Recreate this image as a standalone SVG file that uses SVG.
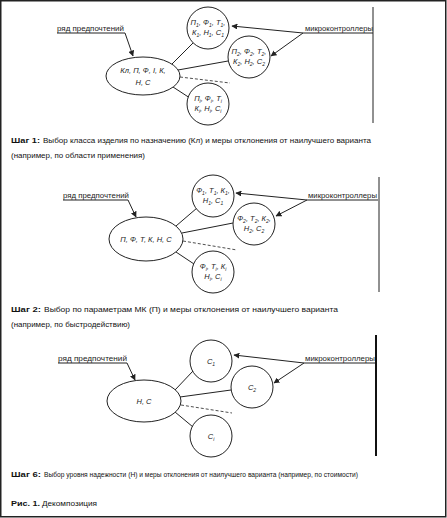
<svg xmlns="http://www.w3.org/2000/svg" width="447" height="518" viewBox="0 0 447 518">
<defs>
<marker id="ah" viewBox="0 0 10 10" refX="9" refY="5" markerWidth="6" markerHeight="6" orient="auto" markerUnits="userSpaceOnUse">
<path d="M0,0 L10,5 L0,10 z" fill="#222"/>
</marker>
<style>
.ln{stroke:#222;stroke-width:1;fill:none}
.dl{stroke:#222;stroke-width:0.8;fill:none;stroke-dasharray:3,2}
.nd{stroke:#222;stroke-width:1;fill:#fff}
.lb{font-family:"Liberation Sans",Arial,sans-serif;font-style:italic;font-size:7.5px;fill:#222;text-anchor:middle}
.tg{font-family:"Liberation Sans",Arial,sans-serif;font-size:7px;fill:#222}
.cp{font-family:"Liberation Sans",Arial,sans-serif;font-size:8px;fill:#111}
.cb{font-family:"Liberation Sans",Arial,sans-serif;font-size:8px;fill:#111;font-weight:bold}
.sb{font-size:5px}
</style>
</defs>
<rect x="0.75" y="0.75" width="445" height="516" fill="#fff" stroke="#222" stroke-width="1.5"/>

<!-- Panel 1 -->
<line x1="373" y1="7" x2="373" y2="123" class="ln"/>
<g id="connectors1">
<polyline points="57,33 125,33 133,56" class="ln" marker-end="url(#ah)"/>
<polyline points="373,33 303,33 232,26" class="ln" marker-end="url(#ah)"/>
<line x1="303" y1="33" x2="271" y2="56" class="ln" marker-end="url(#ah)"/>
<line x1="172" y1="64" x2="193" y2="43" class="ln"/>
<line x1="178" y1="70" x2="228" y2="61" class="ln"/>
<line x1="180" y1="77" x2="230" y2="83" class="dl"/>
<line x1="173" y1="87" x2="193" y2="100" class="ln"/>
</g>
<g id="p1-pref"><text x="57" y="31" class="tg" textLength="67" lengthAdjust="spacingAndGlyphs">ряд предпочтений</text></g>
<g id="p1-mc"><text x="305" y="31" class="tg" textLength="68" lengthAdjust="spacingAndGlyphs">микроконтроллеры</text></g>
<g id="p1-root">
<ellipse cx="143" cy="76" rx="37" ry="19" class="nd"/>
<text x="143" y="73" class="lb">Кл, П, Ф, I, К,</text>
<text x="143" y="85" class="lb">Н, С</text>
</g>
<g id="p1-c1">
<circle cx="208" cy="28" r="21" class="nd"/>
<text x="208" y="25" class="lb">П<tspan class="sb" dy="1.5">1</tspan><tspan dy="-1.5">, Ф</tspan><tspan class="sb" dy="1.5">1</tspan><tspan dy="-1.5">, Т</tspan><tspan class="sb" dy="1.5">1</tspan><tspan dy="-1.5">,</tspan></text>
<text x="208" y="35" class="lb">К<tspan class="sb" dy="1.5">1</tspan><tspan dy="-1.5">, Н</tspan><tspan class="sb" dy="1.5">1</tspan><tspan dy="-1.5">, С</tspan><tspan class="sb" dy="1.5">1</tspan></text>
</g>
<g id="p1-c2">
<circle cx="249" cy="57" r="21" class="nd"/>
<text x="249" y="54" class="lb">П<tspan class="sb" dy="1.5">2</tspan><tspan dy="-1.5">, Ф</tspan><tspan class="sb" dy="1.5">2</tspan><tspan dy="-1.5">, Т</tspan><tspan class="sb" dy="1.5">2</tspan><tspan dy="-1.5">,</tspan></text>
<text x="249" y="64" class="lb">К<tspan class="sb" dy="1.5">2</tspan><tspan dy="-1.5">, Н</tspan><tspan class="sb" dy="1.5">2</tspan><tspan dy="-1.5">, С</tspan><tspan class="sb" dy="1.5">2</tspan></text>
</g>
<g id="p1-c3">
<circle cx="208" cy="104" r="21" class="nd"/>
<text x="208" y="101" class="lb">П<tspan class="sb" dy="1.5">i</tspan><tspan dy="-1.5">, Ф</tspan><tspan class="sb" dy="1.5">i</tspan><tspan dy="-1.5">, Т</tspan><tspan class="sb" dy="1.5">i</tspan></text>
<text x="208" y="111" class="lb">К<tspan class="sb" dy="1.5">i</tspan><tspan dy="-1.5">, Н</tspan><tspan class="sb" dy="1.5">i</tspan><tspan dy="-1.5">, С</tspan><tspan class="sb" dy="1.5">i</tspan></text>
</g>
<text x="11" y="143" class="cb" textLength="29" lengthAdjust="spacingAndGlyphs">Шаг 1:</text>
<text x="43" y="143" class="cp" textLength="328" lengthAdjust="spacingAndGlyphs">Выбор класса изделия по назначению (Кл) и меры отклонения от наилучшего варианта</text>
<text x="11" y="158" class="cp" textLength="134" lengthAdjust="spacingAndGlyphs">(например, по области применения)</text>

<!-- Panel 2 -->
<line x1="379" y1="177" x2="379" y2="292" class="ln"/>
<g id="connectors2">
<polyline points="63,200 128,200 136,217" class="ln" marker-end="url(#ah)"/>
<polyline points="378,200 307,200 236,193" class="ln" marker-end="url(#ah)"/>
<line x1="307" y1="200" x2="276" y2="216" class="ln" marker-end="url(#ah)"/>
<line x1="176" y1="226" x2="197" y2="208" class="ln"/>
<line x1="182" y1="233" x2="233" y2="223" class="ln"/>
<line x1="183" y1="241" x2="237" y2="250" class="dl"/>
<line x1="176" y1="252" x2="197" y2="266" class="ln"/>
</g>
<g id="p2-pref"><text x="63" y="198" class="tg" textLength="66" lengthAdjust="spacingAndGlyphs">ряд предпочтений</text></g>
<g id="p2-mc"><text x="308" y="198" class="tg" textLength="69" lengthAdjust="spacingAndGlyphs">микроконтроллеры</text></g>
<g id="p2-root">
<ellipse cx="146" cy="239" rx="37" ry="22" class="nd"/>
<text x="146" y="242" class="lb">П, Ф, Т, К, Н, С</text>
</g>
<g id="p2-c1">
<circle cx="213" cy="196" r="21" class="nd"/>
<text x="213" y="193" class="lb">Ф<tspan class="sb" dy="1.5">1</tspan><tspan dy="-1.5">, Т</tspan><tspan class="sb" dy="1.5">1</tspan><tspan dy="-1.5">, К</tspan><tspan class="sb" dy="1.5">1</tspan><tspan dy="-1.5">,</tspan></text>
<text x="213" y="203" class="lb">Н<tspan class="sb" dy="1.5">1</tspan><tspan dy="-1.5">, С</tspan><tspan class="sb" dy="1.5">1</tspan></text>
</g>
<g id="p2-c2">
<circle cx="254" cy="224" r="21" class="nd"/>
<text x="254" y="221" class="lb">Ф<tspan class="sb" dy="1.5">2</tspan><tspan dy="-1.5">, Т</tspan><tspan class="sb" dy="1.5">2</tspan><tspan dy="-1.5">, К</tspan><tspan class="sb" dy="1.5">2</tspan><tspan dy="-1.5">,</tspan></text>
<text x="254" y="231" class="lb">Н<tspan class="sb" dy="1.5">2</tspan><tspan dy="-1.5">, С</tspan><tspan class="sb" dy="1.5">2</tspan></text>
</g>
<g id="p2-c3">
<circle cx="213" cy="272" r="21" class="nd"/>
<text x="213" y="269" class="lb">Ф<tspan class="sb" dy="1.5">i</tspan><tspan dy="-1.5">, Т</tspan><tspan class="sb" dy="1.5">i</tspan><tspan dy="-1.5">, К</tspan><tspan class="sb" dy="1.5">i</tspan></text>
<text x="213" y="279" class="lb">Н<tspan class="sb" dy="1.5">i</tspan><tspan dy="-1.5">, С</tspan><tspan class="sb" dy="1.5">i</tspan></text>
</g>
<text x="11" y="312" class="cb" textLength="30" lengthAdjust="spacingAndGlyphs">Шаг 2:</text>
<text x="44" y="312" class="cp" textLength="294" lengthAdjust="spacingAndGlyphs">Выбор по параметрам МК (П) и меры отклонения от наилучшего варианта</text>
<text x="11" y="327" class="cp" textLength="119" lengthAdjust="spacingAndGlyphs">(например, по быстродействию)</text>

<!-- Panel 3 -->
<line x1="376" y1="335" x2="376" y2="456" stroke="#111" stroke-width="2"/>
<g id="connectors3">
<polyline points="58,363 127,363 135,380" class="ln" marker-end="url(#ah)"/>
<polyline points="375,363 304,363 234,355" class="ln" marker-end="url(#ah)"/>
<line x1="304" y1="363" x2="274" y2="383" class="ln" marker-end="url(#ah)"/>
<line x1="175" y1="390" x2="193" y2="371" class="ln"/>
<line x1="180" y1="397" x2="231" y2="390" class="ln"/>
<line x1="181" y1="405" x2="232" y2="413" class="dl"/>
<line x1="175" y1="412" x2="193" y2="427" class="ln"/>
</g>
<g id="p3-pref"><text x="58" y="361" class="tg" textLength="69" lengthAdjust="spacingAndGlyphs">ряд предпочтений</text></g>
<g id="p3-mc"><text x="305" y="361" class="tg" textLength="70" lengthAdjust="spacingAndGlyphs">микроконтроллеры</text></g>
<g id="p3-root">
<ellipse cx="144" cy="401" rx="37" ry="21" class="nd"/>
<text x="144" y="404" class="lb">Н, С</text>
</g>
<g id="p3-c1">
<circle cx="211" cy="361" r="21" class="nd"/>
<text x="211" y="364" class="lb">С<tspan class="sb" dy="1.5">1</tspan></text>
</g>
<g id="p3-c2">
<circle cx="252" cy="387" r="21" class="nd"/>
<text x="252" y="390" class="lb">С<tspan class="sb" dy="1.5">2</tspan></text>
</g>
<g id="p3-c3">
<circle cx="211" cy="436" r="21" class="nd"/>
<text x="211" y="439" class="lb">С<tspan class="sb" dy="1.5">i</tspan></text>
</g>
<text x="11" y="477" class="cb" textLength="30" lengthAdjust="spacingAndGlyphs">Шаг 6:</text>
<text x="44" y="477" class="cp" textLength="314" lengthAdjust="spacingAndGlyphs">Выбор уровня надежности (Н) и меры отклонения от наилучшего варианта (например, по стоимости)</text>
<text x="11" y="506" class="cb" textLength="29" lengthAdjust="spacingAndGlyphs">Рис. 1.</text>
<text x="42" y="506" class="cp" textLength="55" lengthAdjust="spacingAndGlyphs">Декомпозиция</text>
</svg>
